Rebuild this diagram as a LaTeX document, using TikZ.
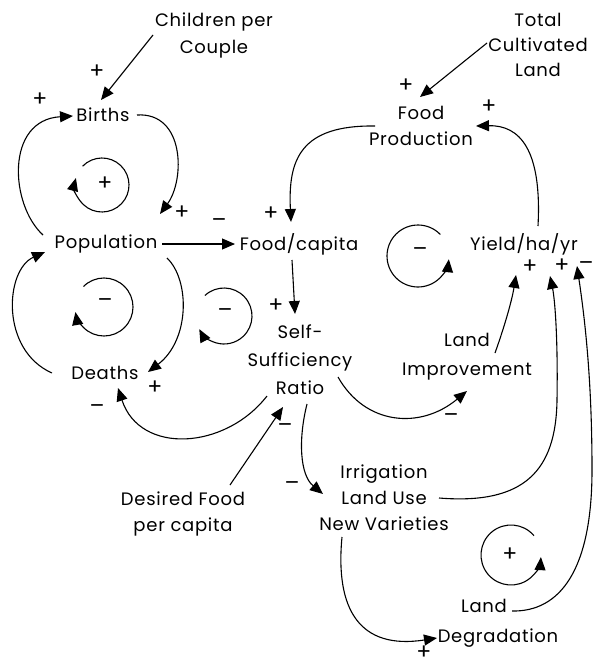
\documentclass[tikz,border=0pt]{standalone}
\usepackage{fontspec}
\setmainfont{Poppins}[LetterSpace=4]
\usetikzlibrary{arrows.meta,calc}
\begin{document}
\begin{tikzpicture}[x=1pt,y=-1pt,line width=1.1pt,
  >={Triangle[length=13pt,width=11pt]},
  lbl/.style={align=center,inner sep=1pt,font=\fontsize{18}{27}\selectfont},
  sgn/.style={inner sep=0pt,font=\fontsize{22}{24}\selectfont}]
\useasboundingbox (0,0) rectangle (594,666);
% variables
\node[lbl] (cpc) at (214,35) {Children per\\Couple};
\node[lbl] (births) at (103,115) {Births};
\node[lbl] (pop) at (106,244) {Population};
\node[lbl] (deaths) at (105,373) {Deaths};
\node[lbl] (fcap) at (299,244) {Food/capita};
\node[lbl,font=\fontsize{18}{28}\selectfont] (ssr) at (300,360) {Self-\\Sufficiency\\Ratio};
\node[lbl,font=\fontsize{18}{26}\selectfont] (fprod) at (421,126) {Food\\Production};
\node[lbl,font=\fontsize{18}{25}\selectfont] (tcl) at (538,45) {Total\\Cultivated\\Land};
\node[lbl] (yield) at (524,244) {Yield/ha/yr};
\node[lbl,font=\fontsize{18}{29}\selectfont] (limp) at (467,357) {Land\\Improvement};
\node[lbl,font=\fontsize{18}{26}\selectfont] (dfpc) at (183,514) {Desired Food\\per capita};
\node[lbl,font=\fontsize{18}{26}\selectfont] (irr) at (384,498) {Irrigation\\Land Use\\New Varieties};
\node[lbl,font=\fontsize{18}{30}\selectfont] (ldeg) at (498,623) {Land\hspace*{28pt}\\Degradation};
% connectors
\draw[->] ($(cpc)+(-61,0)$) -- ($(births)+(-2,-15)$);
\draw[->] ($(pop)+(-63,-9)$) .. controls (10,205) and (5,120) .. ($(births)+(-30,1)$);
\draw[->] ($(births)+(34,0)$) .. controls (185,112) and (185,180) .. ($(pop)+(54,-30)$);
\draw[->] ($(pop)+(56,0)$) -- ($(fcap)+(-64,0)$);
\draw[->] ($(pop)+(61,14)$) .. controls (190,280) and (190,340) .. ($(deaths)+(43,-1)$);
\draw[->] ($(deaths)+(-53,0)$) .. controls (0,350) and (5,270) .. ($(pop)+(-61,8)$);
\draw[->] ($(fcap)+(-7,16)$) -- ($(ssr)+(-5,-46)$);
\draw[->] ($(fprod)+(-46,0)$) .. controls (300,125) and (288,160) .. ($(fcap)+(-8,-22)$);
\draw[->] ($(tcl)+(-51,-2)$) -- ($(fprod)+(-1,-29)$);
\draw[->] ($(yield)+(14,-18)$) .. controls (542,150) and (520,125) .. ($(fprod)+(55,0)$);
\draw[->] ($(limp)+(28,-4)$) .. controls (505,325) and (512,300) .. ($(yield)+(-8,31)$);
\draw[->] ($(ssr)+(38,17)$) .. controls (365,425) and (420,430) .. ($(limp)+(0,34)$);
\draw[->] ($(ssr)+(-33,36)$) .. controls (225,450) and (140,455) .. ($(deaths)+(13,15)$);
\draw[->] ($(dfpc)+(47,-29)$) -- ($(ssr)+(-17,47)$);
\draw[->] ($(ssr)+(7,44)$) .. controls (298,440) and (300,475) .. ($(irr)+(-61,-4)$);
\draw[->] ($(irr)+(55,0)$) .. controls (525,505) and (556,470) .. (557,400)
  .. controls (558,340) and (555,300) .. ($(yield)+(26,32)$);
\draw[->] ($(ldeg)+(14,-12)$) .. controls (560,612) and (592,570) .. (592,470)
  .. controls (592,380) and (585,320) .. ($(yield)+(53,22)$);
\draw[->] ($(irr)+(-42,39)$) .. controls (335,610) and (360,650) .. ($(ldeg)+(-61,15)$);
% loop markers
\coordinate (lpA) at (102,185);
\coordinate (lpB) at (104,307);
\coordinate (lpC) at (224,316);
\coordinate (lpD) at (418,256);
\coordinate (lpE) at (511,555);
\draw[->] ($(lpA)+(224:27)$) arc[start angle=224,end angle=555,radius=27];
\draw[->] ($(lpB)+(225:29)$) arc[start angle=225,end angle=530,radius=29];
\draw[->] ($(lpC)+(227:28)$) arc[start angle=227,end angle=512,radius=28];
\draw[->] ($(lpD)+(316:31)$) arc[start angle=316,end angle=6,radius=31];
\draw[->] ($(lpE)+(320:30)$) arc[start angle=320,end angle=4,radius=30];
% signs
\node[sgn] (s1) at (97,72) {+};
\node[sgn] (s2) at (40,100) {+};
\node[sgn] (s3) at (182,213) {+};
\node[sgn] (s4) at (105,184) {+};
\node[sgn] (s5) at (219,223) {–};
\node[sgn] (s6) at (271,214) {+};
\node[sgn] (s7) at (276,306) {+};
\node[sgn] (s8) at (155,388) {+};
\node[sgn] (s9) at (105,303) {–};
\node[sgn] (s10) at (225,313) {–};
\node[sgn] (s11) at (97,409) {–};
\node[sgn] (s12) at (285,428) {–};
\node[sgn] (s13) at (292,486) {–};
\node[sgn] (s14) at (451,418) {–};
\node[sgn] (s15) at (406,86) {+};
\node[sgn] (s16) at (489,107) {+};
\node[sgn] (s17) at (420,252) {–};
\node[sgn] (s18) at (530,267) {+};
\node[sgn] (s19) at (562,266) {+};
\node[sgn] (s20) at (586,266) {–};
\node[sgn] (s21) at (510,555) {+};
\node[sgn] (s22) at (424,653) {+};
\end{tikzpicture}
\end{document}
